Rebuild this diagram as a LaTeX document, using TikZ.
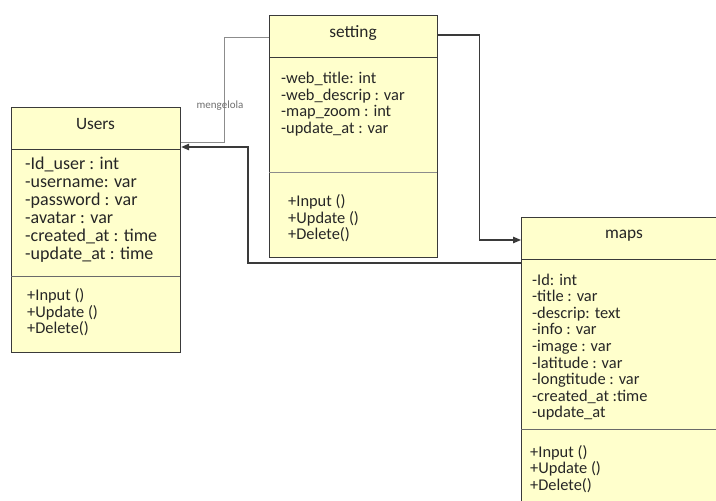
\documentclass[tikz,border=0pt]{standalone}
\usepackage{fontspec}
\setmainfont{Carlito}
\usetikzlibrary{arrows.meta}
\definecolor{boxfill}{HTML}{FFFFCC}
\definecolor{boxline}{HTML}{3A3A3A}
\definecolor{sepline}{HTML}{6A6A6A}
\definecolor{txt}{HTML}{262626}
\definecolor{lightconn}{HTML}{8C8C8C}
\tikzset{
  classbox/.style={draw=boxline, fill=boxfill, line width=1.2pt, anchor=north west, inner sep=0pt},
  sep/.style={draw=sepline, line width=1pt},
  titletext/.style={font=\fontsize{17.3}{20}\selectfont, text=txt, anchor=base, inner sep=0pt},
  bigattr/.style={font=\fontsize{18}{18}\selectfont, text=txt, anchor=base west, inner sep=0pt},
  member/.style={font=\fontsize{16.4}{16.6}\selectfont, text=txt, anchor=base west, inner sep=0pt},
  conn/.style={draw=boxline, line width=1.2pt},
  arr/.style={-{Triangle[length=8pt,width=6.5pt]}},
}
\begin{document}
\begin{tikzpicture}[x=1pt,y=-1pt]
\useasboundingbox (0,0) rectangle (716,501);
\fill[white] (0,0) rectangle (716,501);

% Users
\node[classbox, minimum width=169pt, minimum height=245pt] (users) at (11,107) {};
\draw[sep, draw=boxline] (11,149) -- (180,149);
\draw[sep] (11,276) -- (180,276);
\node[titletext] (users-title) at (95.5,129) {Users};
\foreach \t [count=\i] in {-Id\_user : int, -username: var, -password : var, -avatar : var, -created\_at : time, -update\_at : time}
  \node[bigattr] (users-a\i) at (25,{169+(\i-1)*18}) {\t};
\foreach \t [count=\i] in {+Input (), +Update (), +Delete()}
  \node[member] (users-m\i) at (27,{300.5+(\i-1)*16.6}) {\t};

% setting
\node[classbox, minimum width=168pt, minimum height=242pt] (setting) at (269,15) {};
\draw[sep, draw=boxline] (269,57) -- (437,57);
\draw[sep, draw=lightconn] (269,172) -- (437,172);
\node[titletext] (setting-title) at (353,37.5) {setting};
\foreach \t [count=\i] in {-web\_title: int, -web\_descrip : var, -map\_zoom : int, -update\_at : var}
  \node[member] (setting-a\i) at (281,{83.5+(\i-1)*16.6}) {\t};
\foreach \t [count=\i] in {+Input (), +Update (), +Delete()}
  \node[member] (setting-m\i) at (288,{206.5+(\i-1)*16.6}) {\t};

% maps (cropped by the picture's right and bottom edges)
\node[classbox, minimum width=260pt, minimum height=320pt] (maps) at (521,217) {};
\draw[sep, draw=boxline] (521,259) -- (781,259);
\draw[sep] (521,429) -- (781,429);
\node[titletext] (maps-title) at (624,238.5) {maps};
\foreach \t [count=\i] in {-Id: int, -title : var, -descrip: text, -info : var, -image : var, -latitude : var, -longtitude : var, -created\_at :time, -update\_at}
  \node[member] (maps-a\i) at (532,{285+(\i-1)*16.6}) {\t};
\foreach \t [count=\i] in {+Input (), +Update (), +Delete()}
  \node[member] (maps-m\i) at (530,{457+(\i-1)*16.6}) {\t};

% connectors
\draw[draw=lightconn, line width=1pt] ([yshift=-22pt]setting.north west) -- ++(-45,0) |- ([yshift=-35pt]users.north east);
\node[font=\fontsize{11}{12}\selectfont, text=lightconn!80!black, inner sep=0pt] (lbl) at (220,106) {mengelola};
\draw[conn, arr] ([yshift=-46pt]maps.north west) -- ++(-273,0) |- ([yshift=-40pt]users.north east);
\draw[conn, arr] ([yshift=-20pt]setting.north east) -- ++(41,0) |- ([yshift=-23pt]maps.north west);
\end{tikzpicture}
\end{document}
